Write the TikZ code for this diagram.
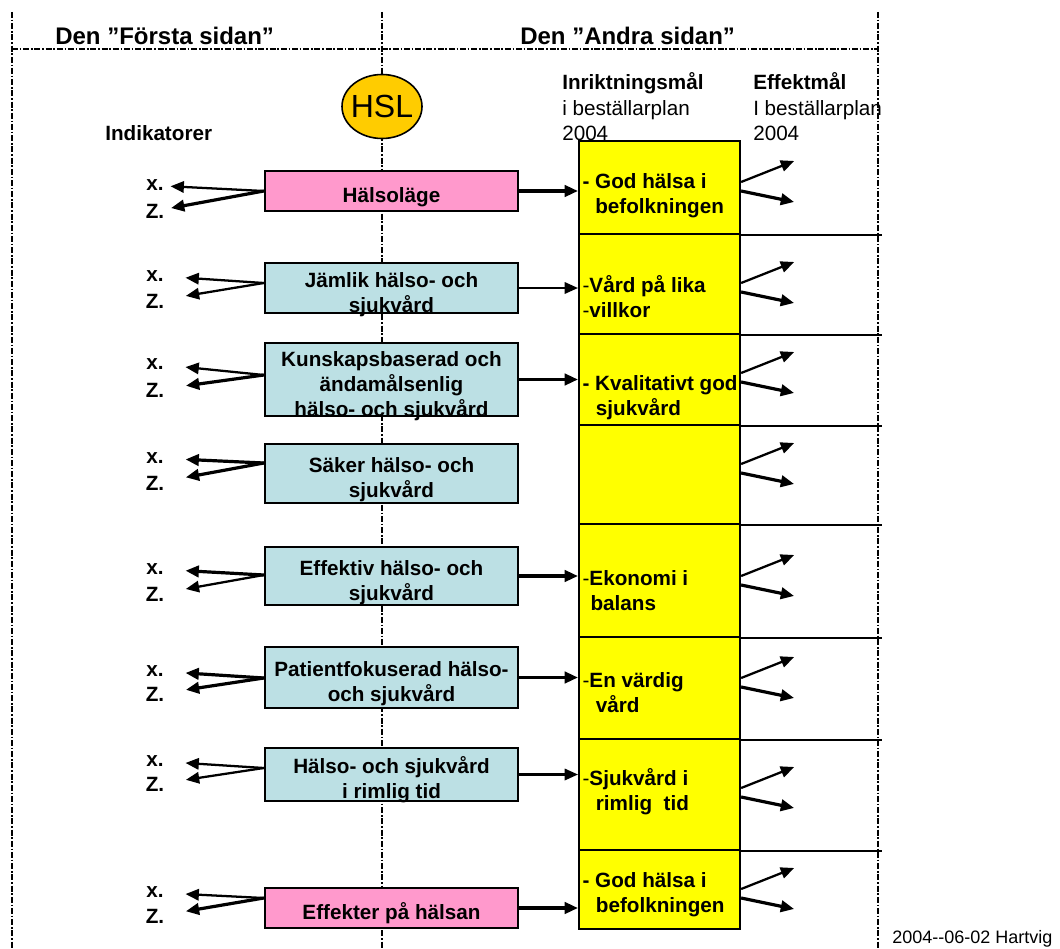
\documentclass[tikz,border=0pt]{standalone}
\usepackage{fontspec}
\setmainfont{Liberation Sans}
\usetikzlibrary{arrows.meta,shapes.geometric}
\definecolor{ljusbla}{RGB}{188,224,228}
\definecolor{rosa}{RGB}{255,153,204}
\definecolor{gul}{RGB}{255,255,0}
\definecolor{hslgul}{RGB}{255,204,0}
\newcommand\rutext[1]{\raisebox{-8.5pt}[0pt][0pt]{\begin{tabular}{@{}c@{}}#1\end{tabular}}}

\begin{document}
\begin{tikzpicture}[x=0.75pt,y=-0.75pt,font=\fontsize{15.5}{18.75}\selectfont\bfseries,
  streck/.style={line width=2.1pt,dash pattern=on 4.5pt off 1.3pt on 1.3pt off 1.3pt},
  ruta/.style={draw,line width=1.8pt,fill=ljusbla,inner sep=0pt,minimum width=189.75pt},
  rosaruta/.style={ruta,fill=rosa},
  mal/.style={draw,line width=1.6pt,fill=gul,minimum width=120.75pt,inner sep=0pt,anchor=north west},
  maltext/.style={anchor=west,align=left,inner sep=1pt},
  rubrik/.style={anchor=base west,inner sep=0pt},
  etikett/.style={inner sep=0.5pt},
  pil/.style={line width=1.7pt,-{Triangle[length=10pt,width=8.5pt]},shorten >=15.75pt},
  tjockpil/.style={pil,line width=2.4pt},
  linje/.style={line width=1.2pt}]
\useasboundingbox (0,0) rectangle (1060,949);

\draw[streck] (12,12)--(12,949) (382,12)--(382,949) (878,12)--(878,949) (12,49)--(878,49);

\node[rubrik,font=\fontsize{18}{22}\selectfont\bfseries] (forsta) at (55,45) {Den ”Första sidan”};
\node[rubrik,font=\fontsize{18}{22}\selectfont\bfseries] (andra) at (520,45) {Den ”Andra sidan”};
\node[rubrik] (indikatorer) at (105,140) {Indikatorer};
\node[rubrik] (inriktning) at (562,89.5) {Inriktningsmål};
\node[rubrik,font=\fontsize{15.5}{18.75}\selectfont] (inriktplan) at (562,115) {i beställarplan};
\node[rubrik,font=\fontsize{15.5}{18.75}\selectfont] (inriktar) at (562,140.5) {2004};
\node[rubrik] (effektmal) at (753,89.5) {Effektmål};
\node[rubrik,font=\fontsize{15.5}{18.75}\selectfont] (effektplan) at (753,115) {I beställarplan};
\node[rubrik,font=\fontsize{15.5}{18.75}\selectfont] (effektar) at (753,140.5) {2004};

\node[draw,ellipse,fill=hslgul,line width=1.2pt,minimum width=60pt,minimum height=48pt,inner sep=-2.5pt,font=\fontsize{24}{28}\selectfont] (hsl) at (382,106.5) {HSL};

\node[rosaruta,minimum height=30pt] (halsolage) at (391.5,191) {\rutext{Hälsoläge}};
\node[ruta,minimum height=37.5pt] (jamlik) at (391.5,288) {\rutext{Jämlik hälso- och\\sjukvård}};
\node[ruta,minimum height=54.75pt] (kunskap) at (391.5,379.5) {\rutext{Kunskapsbaserad och\\ändamålsenlig\\hälso- och sjukvård}};
\node[ruta,minimum height=44.25pt] (saker) at (391.5,473.5) {\rutext{Säker hälso- och\\sjukvård}};
\node[ruta,minimum height=43.5pt] (effektiv) at (391.5,576) {\rutext{Effektiv hälso- och\\sjukvård}};
\node[ruta,minimum height=45.75pt] (patient) at (391.5,677.5) {\rutext{Patientfokuserad hälso-\\och sjukvård}};
\node[ruta,minimum height=39.75pt] (rimlig) at (391.5,774.5) {\rutext{Hälso- och sjukvård\\i rimlig tid}};
\node[rosaruta,minimum height=30pt] (effekter) at (391.5,908) {\rutext{Effekter på hälsan}};

\node[mal,minimum height=69.75pt] (mal1) at (578,140) {};
\node[mal,minimum height=75pt] (mal2) at (578,233) {};
\node[mal,minimum height=68.25pt] (mal3) at (578,333) {};
\node[mal,minimum height=74.25pt] (mal4) at (578,424) {};
\node[mal,minimum height=84.75pt] (mal5) at (578,523) {};
\node[mal,minimum height=76.5pt] (mal6) at (578,636) {};
\node[mal,minimum height=83.25pt] (mal7) at (578,738) {};
\node[mal,minimum height=59.25pt] (mal8) at (578,849) {};
\foreach \i in {1,...,7} \draw[linje] (mal\i.south east) -- ++(141,0);

\node[maltext] (god1) at (581,196) {- God hälsa i\\\hspace*{9.5pt}befolkningen};
\node[maltext] (lika) at (581,296.5) {{\mdseries-}Vård på lika\\{\mdseries-}villkor};
\node[maltext] (kvalitet) at (581,397.5) {- Kvalitativt god\\\hspace*{10pt}sjukvård};
\node[maltext] (ekonomi) at (581,590.5) {{\mdseries-}Ekonomi i\\\hspace*{6pt}balans};
\node[maltext] (vardig) at (581,693) {{\mdseries-}En värdig\\\hspace*{10pt}vård};
\node[maltext] (sjukvard) at (581,792) {{\mdseries-}Sjukvård i\\\hspace*{10pt}rimlig\ \ tid};
\node[maltext] (god2) at (581,894.5) {- God hälsa i\\\hspace*{10pt}befolkningen};

\draw[tjockpil,shorten >=0pt] (halsolage.east) -- (halsolage.east -| mal1.west);
\draw[pil,shorten >=0pt] (jamlik.east) -- (jamlik.east -| mal2.west);
\draw[tjockpil,shorten >=0pt] (kunskap.east) -- (kunskap.east -| mal3.west);
\draw[tjockpil,shorten >=0pt] (effektiv.east) -- (effektiv.east -| mal5.west);
\draw[tjockpil,shorten >=0pt] (patient.east) -- (patient.east -| mal6.west);
\draw[pil,shorten >=0pt] (rimlig.east) -- (rimlig.east -| mal7.west);
\draw[tjockpil,shorten >=0pt] (effekter.east) -- (effekter.east -| mal8.west);

\foreach \i/\y in {1/182,2/283,3/373,4/464,5/576,6/678,7/788,8/889}{
  \draw[pil,shorten >=0pt] (mal\i.east |- 0,\y) -- ++(53,-21);
  \draw[tjockpil,shorten >=0pt] (mal\i.east |- 0,\y+9) -- ++(53,11);
}

\node[etikett] (x1) at (155,185.5) {x.};
\node[etikett] (z1) at (155,211) {Z.};
\node[etikett] (x2) at (155,275.7) {x.};
\node[etikett] (z2) at (155,301) {Z.};
\node[etikett] (x3) at (155,364) {x.};
\node[etikett] (z3) at (155,390) {Z.};
\node[etikett] (x4) at (155,458) {x.};
\node[etikett] (z4) at (155,483) {Z.};
\node[etikett] (x5) at (155,569) {x.};
\node[etikett] (z5) at (155,594.5) {Z.};
\node[etikett] (x6) at (155,671) {x.};
\node[etikett] (z6) at (155,694.5) {Z.};
\node[etikett] (x7) at (155,761) {x.};
\node[etikett] (z7) at (155,784.5) {Z.};
\node[etikett] (x8) at (155,892.5) {x.};
\node[etikett] (z8) at (155,916.5) {Z.};

\draw[pil,shorten >=4.5pt] (halsolage.west) -- (x1);
\draw[tjockpil,shorten >=4.5pt] (halsolage.west) -- (z1);
\draw[pil] (jamlik.west |- 0,283) -- (x2);
\draw[pil] (jamlik.west |- 0,283) -- (z2);
\draw[pil] (kunskap.west |- 0,375) -- (x3);
\draw[tjockpil] (kunskap.west |- 0,375) -- (z3);
\draw[tjockpil] (saker.west |- 0,463) -- (x4);
\draw[tjockpil] (saker.west |- 0,463) -- (z4);
\draw[tjockpil] (effektiv.west |- 0,575) -- (x5);
\draw[pil] (effektiv.west |- 0,575) -- (z5);
\draw[tjockpil] (patient.west |- 0,678) -- (x6);
\draw[tjockpil] (patient.west |- 0,678) -- (z6);
\draw[pil] (rimlig.west |- 0,768) -- (x7);
\draw[pil] (rimlig.west |- 0,768) -- (z7);
\draw[pil] (effekter.west |- 0,898) -- (x8);
\draw[tjockpil] (effekter.west |- 0,898) -- (z8);

\node[rubrik,font=\fontsize{13.5}{16}\selectfont] (datum) at (892,943) {2004-{}-06-02 Hartvig};
\end{tikzpicture}
\end{document}
